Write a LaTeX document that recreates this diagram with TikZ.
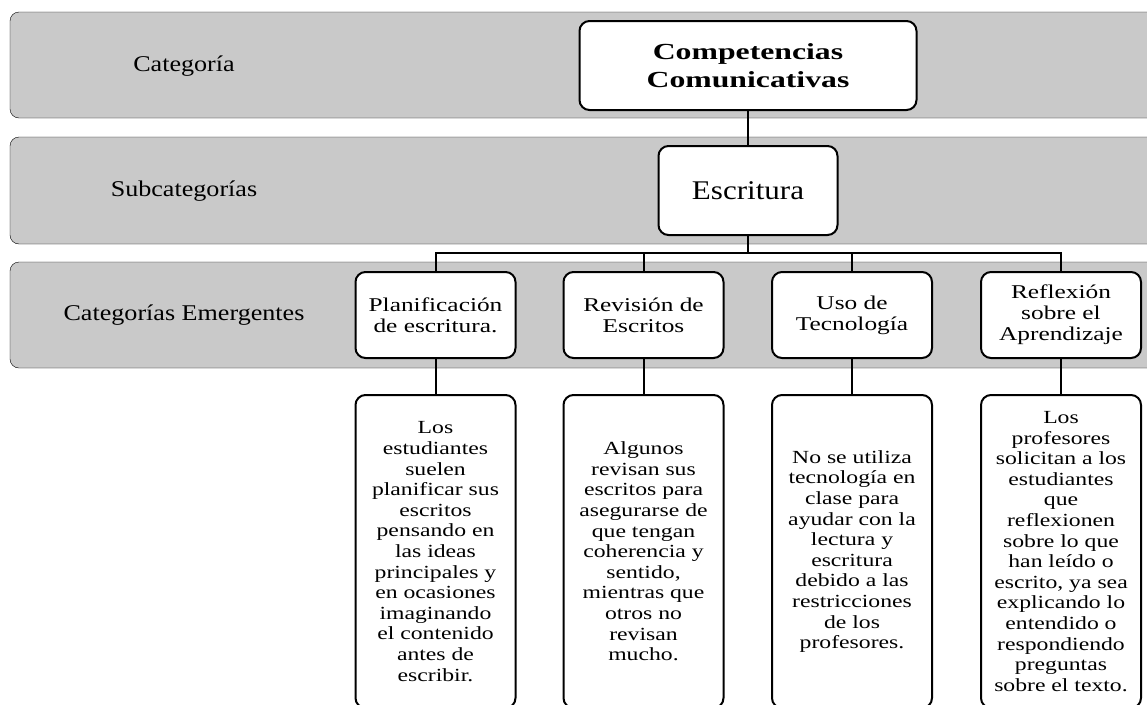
\documentclass[tikz,border=0pt]{standalone}
\usepackage{fontspec}
\setmainfont[FakeStretch=1.28]{Liberation Serif}
\newfontfamily\lblfont[FakeStretch=1.16]{Liberation Serif}
\newfontfamily\catfont[FakeStretch=1.3]{Liberation Serif}
\newfontfamily\titlefont[FakeStretch=1.38]{Liberation Serif}
\newfontfamily\subfont[FakeStretch=1.15]{Liberation Serif}
\usetikzlibrary{positioning}
\definecolor{bandgray}{RGB}{201,201,201}

\begin{document}
\begin{tikzpicture}[x=1pt, y=-1pt,
	band/.style={fill=bandgray, rounded corners=9pt},
	lbl/.style={font=\lblfont\fontsize{22.5}{25}\selectfont},
	box/.style={draw, line width=2pt, fill=white, rounded corners=10pt, align=center, inner sep=2pt},
	catbox/.style={box, minimum width=160pt, minimum height=86pt, font=\catfont\fontsize{19.5}{21}\selectfont},
	txtbox/.style={box, minimum width=160pt, minimum height=313pt, font=\fontsize{18.5}{20.6}\selectfont},
	link/.style={line width=2pt}]
	\useasboundingbox (0,0) rectangle (1147,704);
	\clip (0,0) rectangle (1147,704);
	\fill[white] (0,0) rectangle (1147,704);
	\draw[band] (10,12) rectangle (1165,118);
	\draw[band] (10,137) rectangle (1165,244);
	\draw[band] (10,262) rectangle (1165,368);
	\node[lbl] (cat) at (184,66) {Categoría};
	\node[lbl] (sub) at (184,191) {Subcategorías};
	\node[lbl] (emer) at (184,315) {Categorías Emergentes};
	\node[box, minimum width=337pt, minimum height=89pt, font=\titlefont\bfseries\fontsize{23}{27.7}\selectfont] (comp) at (748,65.5) {Competencias\\Comunicativas};
	\node[box, minimum width=179pt, minimum height=89pt, font=\subfont\fontsize{27}{30}\selectfont] (escr) at (748,190.5) {Escritura};
	\node[catbox] (p) at (435.5,315) {Planificación\\de escritura.};
	\node[catbox] (r) at (643.5,315) {Revisión de\\Escritos};
	\node[catbox] (u) at (852,315) {Uso de\\Tecnología};
	\node[catbox] (f) at (1061,315) {Reflexión\\sobre el\\Aprendizaje};
	\node[txtbox] (pd) at (435.5,551.5) {Los\\estudiantes\\suelen\\planificar  sus\\escritos\\pensando en\\las ideas\\principales y\\en ocasiones\\imaginando\\el contenido\\antes de\\escribir.};
	\node[txtbox] (rd) at (643.5,551.5) {Algunos\\revisan sus\\escritos para\\asegurarse de\\que tengan\\coherencia y\\sentido,\\mientras que\\otros no\\revisan\\mucho.};
	\node[txtbox] (ud) at (852,551.5) {No se utiliza\\tecnología en\\clase para\\ayudar con la\\lectura y\\escritura\\debido a las\\restricciones\\de los\\profesores.};
	\node[txtbox] (fd) at (1061,551.5) {Los\\profesores\\solicitan a los\\estudiantes\\que\\reflexionen\\sobre lo que\\han leído o\\escrito, ya sea\\explicando lo\\entendido o\\respondiendo\\preguntas\\sobre el texto.};
	\draw[link] (comp) -- (escr);
	\draw[link] (escr.south) -- ++(0,17) coordinate (bus);
	\foreach \n in {p,r,u,f}
		\draw[link] (bus) -| (\n.north);
	\draw[link] (p) -- (pd);
	\draw[link] (r) -- (rd);
	\draw[link] (u) -- (ud);
	\draw[link] (f) -- (fd);
\end{tikzpicture}
\end{document}
